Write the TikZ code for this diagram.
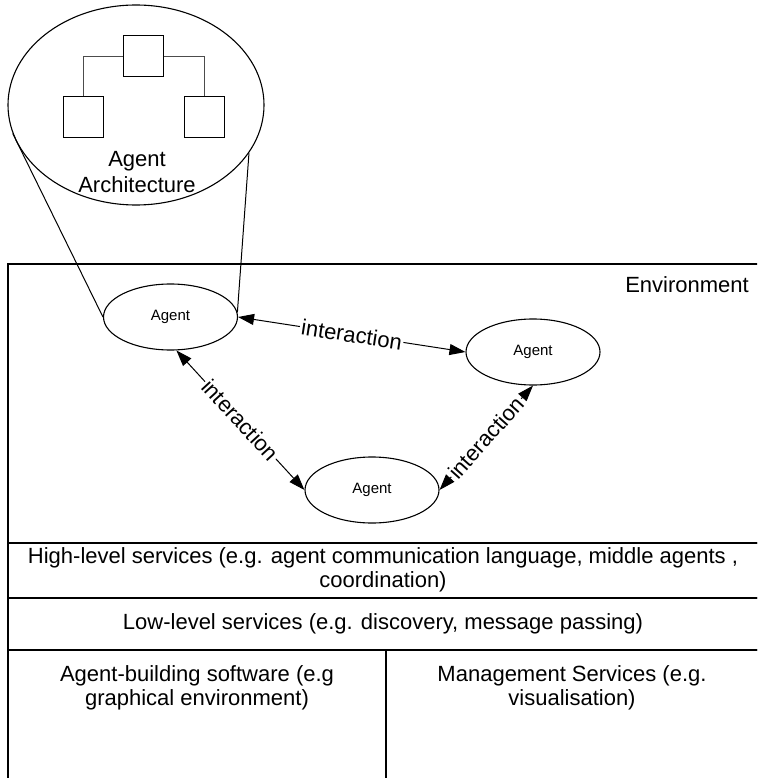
\documentclass[tikz,border=0pt]{standalone}
\usepackage{fontspec}
\setmainfont{Liberation Sans}
\usetikzlibrary{arrows.meta,shapes.geometric}

\tikzset{
  big/.style={font=\fontsize{22}{24}\selectfont},
  small/.style={font=\fontsize{15}{17}\selectfont},
  agent/.style={draw, line width=1.1pt, ellipse, minimum width=134pt, minimum height=66pt, inner sep=0pt, small},
  unitbox/.style={draw, line width=1pt, minimum width=40pt, minimum height=41pt, inner sep=0pt},
  link/.style={line width=0.9pt, draw=black!70},
  frame/.style={line width=1.1pt},
  twoway/.style={line width=1pt, {Triangle[length=16pt,width=11pt]}-{Triangle[length=16pt,width=11pt]}},
  lbl/.style={big, sloped, fill=white, inner sep=1.5pt},
  celltext/.style={big, align=center, inner sep=0pt}
}

\begin{document}
\begin{tikzpicture}[x=1pt, y=-1pt]
  \useasboundingbox (0,0) rectangle (757,778);
  \clip (0,0) rectangle (757,778);

  % environment frame and service layers
  \draw[frame] (8,264) rectangle (760,543);
  \draw[frame] (8,543) rectangle (760,598);
  \draw[frame] (8,598) rectangle (760,650);
  \draw[frame] (8,650) rectangle (386,800);
  \draw[frame] (386,650) rectangle (760,800);

  \node[big, anchor=base east, inner sep=0pt] (env) at (749,292) {Environment};
  \node[celltext] (high) at (383,570) {High-level services (e.g. agent communication language, middle agents ,\\coordination)};
  \node[celltext] (low) at (383,624) {Low-level services (e.g. discovery, message passing)};
  \node[celltext] (build) at (197,688) {Agent-building software (e.g\\graphical environment)};
  \node[celltext] (mgmt) at (572,688) {Management Services (e.g.\\visualisation)};

  % magnified agent architecture
  \node[draw, line width=1.1pt, ellipse, minimum width=256pt, minimum height=200pt, inner sep=0pt] (arch) at (136,105) {};
  \node[unitbox] (top) at (143,56) {};
  \node[unitbox] (left) at (83,117) {};
  \node[unitbox] (right) at (204,117) {};
  \draw[link] (top.west) -| (left.north);
  \draw[link] (top.east) -| (right.north);
  \node[big, anchor=base, inner sep=0pt] (archA) at (137,167) {Agent};
  \node[big, anchor=base, inner sep=0pt] (archB) at (137,192) {Architecture};

  % agents
  \node[agent] (a1) at (170.5,317) {Agent};
  \node[agent] (a2) at (533,352) {Agent};
  \node[agent] (a3) at (372,490) {Agent};

  % zoom lines
  \draw[line width=1pt] (arch.193) -- (a1.west);
  \draw[line width=1pt] (arch.-23) -- (a1.4);

  % interactions
  \draw[twoway] (a1.east) -- node[lbl] {interaction} (a2.west);
  \draw[twoway] (a1.-80) -- node[lbl] {interaction} (a3.west);
  \draw[twoway] (a3.east) -- node[lbl] {interaction} (a2.south);
\end{tikzpicture}
\end{document}
